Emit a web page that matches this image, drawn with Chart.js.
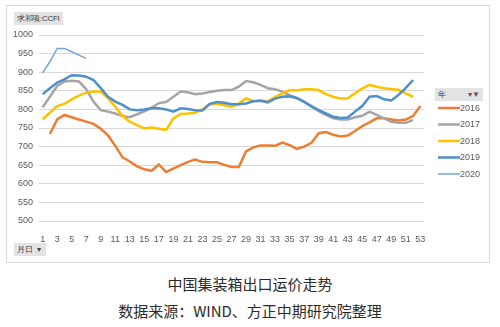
<!DOCTYPE html>
<html lang="zh">
<head>
<meta charset="UTF-8">
<title>中国集装箱出口运价走势</title>
<script src="https://cdn.jsdelivr.net/npm/chart.js"></script>
<style>
  html, body { margin: 0; padding: 0; background: #fff; }
  body { width: 500px; height: 327px; position: relative; overflow: hidden; font-family: "Liberation Sans", Arial, sans-serif; }
  #frame { position: absolute; left: 6px; top: 5px; width: 484px; height: 258px; box-sizing: border-box; border: 1px solid #d9d9d9; }
  #frame canvas { position: absolute; left: 0; top: 0; }
  .btn { position: absolute; background: #e3e3e3; color: #404040; font-size: 8px; line-height: 13px; height: 13px; padding: 0 3px; box-sizing: border-box; white-space: nowrap; overflow: hidden; }
  .title { position: absolute; left: 0; width: 500px; text-align: center; color: #2b2b2b; font-family: "Noto Sans CJK SC", sans-serif; }
</style>
</head>
<body>
<div id="frame">
  <canvas id="ccfi" width="482" height="256"></canvas>
</div>
<div class="btn" style="left:14px; top:12px; width:49px; letter-spacing:-0.3px;">求和项:CCFI</div>
<div class="btn" style="left:14px; top:243px; width:32px;">月日 &nbsp;▾</div>
<div class="btn" style="left:435px; top:88px; width:48px;">年<span style="float:right; color:#555;">▾▼</span></div>
<div class="title" style="top:273px; font-size:15px;">中国集装箱出口运价走势</div>
<div class="title" style="top:300px; font-size:15px;">数据来源：WIND、方正中期研究院整理</div>

<script>
// week numbers 1..53
const weeks = Array.from({ length: 53 }, (_, i) => String(i + 1));

const y2016 = [null, 734, 773, 785, 779, 773, 767, 761, 748, 730, 702, 671, 660, 647, 639, 635, 652, 632, 641, 650,
  659, 665, 659, 658, 658, 651, 645, 645, 687, 698, 703, 703, 702, 711, 704, 694, 700, 710, 736, 739,
  732, 727, 730, 742, 755, 765, 776, 776, 773, 770, 773, 782, 809];
const y2017 = [806, 834, 863, 875, 877, 875, 854, 821, 798, 794, 789, 782, 779, 787, 795, 804, 817, 820, 834, 848,
  846, 841, 843, 847, 850, 852, 852, 861, 876, 873, 866, 857, 854, 848, 838, 831, 821, 807, 795, 785,
  776, 773, 773, 779, 783, 794, 785, 776, 767, 764, 764, 771, null];
const y2018 = [773, 791, 809, 815, 827, 837, 845, 848, 848, 830, 807, 782, 767, 758, 749, 751, 748, 745, 776, 788,
  789, 791, 800, 813, 815, 811, 807, 815, 830, 822, 824, 821, 834, 843, 852, 851, 854, 854, 852, 841,
  834, 829, 830, 843, 856, 866, 861, 857, 855, 852, 843, 834, null];
const y2019 = [841, 857, 872, 881, 892, 891, 888, 879, 857, 834, 821, 812, 800, 798, 800, 803, 803, 800, 794, 803,
  801, 798, 797, 815, 820, 818, 814, 814, 816, 822, 823, 819, 829, 834, 835, 830, 820, 809, 798, 789,
  780, 777, 778, 794, 809, 834, 836, 827, 824, 839, 858, 879, null];
const y2020 = [898, 928, 964, 964, 955, 946, 937];

const years = ['2016', '2017', '2018', '2019', '2020'];
const series = [y2016, y2017, y2018, y2019, y2020];
const colors = ['#ED7D31', '#A5A5A5', '#FFC000', '#4F8FCC', '#6FA6DA'];
const widths = [2.5, 2.5, 2.5, 2.5, 1.5];

// legend on the right, drawn from the datasets
const sideLegend = {
  id: 'sideLegend',
  afterDraw(chart) {
    const ctx = chart.ctx;
    ctx.save();
    ctx.font = '9px "Liberation Sans", Arial, sans-serif';
    ctx.textBaseline = 'middle';
    ctx.textAlign = 'left';
    chart.data.datasets.forEach((ds, i) => {
      const y = 102 + i * 16.5;
      ctx.strokeStyle = ds.borderColor;
      ctx.lineWidth = ds.borderWidth;
      ctx.beginPath();
      ctx.moveTo(431, y);
      ctx.lineTo(453, y);
      ctx.stroke();
      ctx.fillStyle = '#595959';
      ctx.fillText(ds.label, 453, y + 0.5);
    });
    ctx.restore();
  }
};

new Chart(document.getElementById('ccfi'), {
  type: 'line',
  data: {
    labels: weeks,
    datasets: years.map((yr, i) => ({
      label: yr,
      data: series[i],
      borderColor: colors[i],
      backgroundColor: colors[i],
      borderWidth: widths[i],
      pointRadius: 0,
      tension: 0,
      spanGaps: false,
      order: 5 - i
    }))
  },
  options: {
    responsive: false,
    animation: false,
    layout: { padding: { top: 29, right: 65, bottom: 0, left: 0 } },
    plugins: { legend: { display: false }, tooltip: { enabled: false } },
    scales: {
      x: {
        offset: true,
        grid: { display: false },
        border: { display: false },
        afterFit(scale) { scale.height = 41; },
        ticks: {
          autoSkip: false,
          maxRotation: 0,
          padding: 5,
          color: '#595959',
          font: { size: 9, family: '"Liberation Sans", Arial, sans-serif' },
          callback(v, i) { return i % 2 === 0 ? weeks[i] : ''; }
        }
      },
      y: {
        min: 500,
        max: 1000,
        border: { display: false },
        grid: { color: '#d9d9d9', lineWidth: 1, drawTicks: false },
        afterFit(scale) { scale.width = 32; },
        ticks: {
          stepSize: 50,
          padding: 6,
          color: '#595959',
          font: { size: 9, family: '"Liberation Sans", Arial, sans-serif' },
          callback(v) { return String(v); }
        }
      }
    }
  },
  plugins: [sideLegend]
});
</script>
</body>
</html>
